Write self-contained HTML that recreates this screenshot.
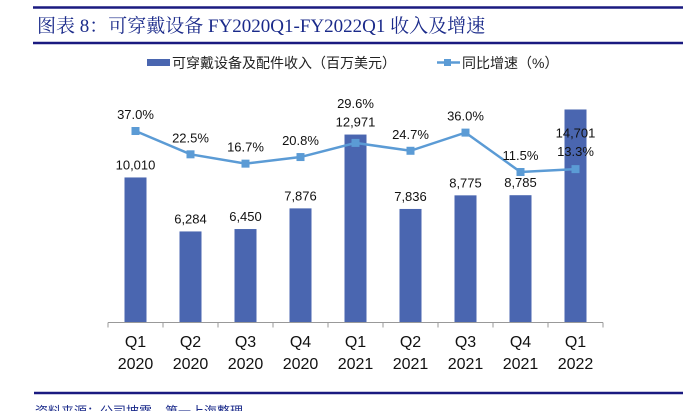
<!DOCTYPE html>
<html><head><meta charset="utf-8"><style>
body{margin:0;background:#fff;width:698px;height:411px;overflow:hidden;font-family:"Liberation Sans","Noto Sans CJK SC",sans-serif}
</style></head><body>
<svg width="698" height="411">
<line x1="33" y1="7.5" x2="683" y2="7.5" stroke="#1a1a80" stroke-width="2.5"/>
<text x="37" y="32" font-size="19" fill="#1a2a8a" font-family="'Liberation Serif','Noto Serif CJK SC',serif">图表 8：可穿戴设备 FY2020Q1-FY2022Q1 收入及增速</text>
<line x1="33" y1="43" x2="683" y2="43" stroke="#1a1a80" stroke-width="2.5"/>
<g>
<rect x="147" y="59" width="23" height="7" fill="#4a66b0"/>
<text x="172" y="68" font-size="14" fill="#222">可穿戴设备及配件收入（百万美元）</text>
<line x1="437" y1="62.5" x2="460" y2="62.5" stroke="#5b9bd5" stroke-width="2.5"/>
<rect x="444" y="59" width="7" height="7" fill="#5b9bd5"/>
<text x="462" y="68" font-size="14" fill="#222">同比增速（%）</text>
</g>
<g id="plot"></g>
<line x1="34" y1="393" x2="683" y2="393" stroke="#1a1a80" stroke-width="2.5"/>
<text x="35" y="416" font-size="13" fill="#1a2a8a">资料来源：公司披露，第一上海整理</text>
</svg>
<script>
const categories=["Q1|2020","Q2|2020","Q3|2020","Q4|2020","Q1|2021","Q2|2021","Q3|2021","Q4|2021","Q1|2022"];
const revenue=[10010,6284,6450,7876,12971,7836,8775,8785,14701];
const growth=[37.0,22.5,16.7,20.8,29.6,24.7,36.0,11.5,13.3];
const NS="http://www.w3.org/2000/svg";
const g=document.getElementById('plot');
const x0=108,step=55,base=322.5;
const xc=i=>x0+step*(i+0.5);
const yb=v=>base-v*0.01449;
const yl=v=>190.5-v*1.608;
// label placement offsets (styling, not data)
const barLabelDy=[-8,-8,-8,-8,-8,-8,-8,-8,28];
const lineLabelDy=[-12,-12,-12,-12,-35,-12,-12,-12,-13];
function mk(t,a,txt){const e=document.createElementNS(NS,t);for(const k in a)e.setAttribute(k,a[k]);if(txt!==undefined)e.textContent=txt;g.appendChild(e);return e;}
revenue.forEach((v,i)=>{
 const r=mk('rect',{x:xc(i)-11,y:yb(v),width:22,height:base-yb(v),fill:'#4a66b0'});
 
 
});
const ax=mk('line',{x1:x0,y1:base,x2:x0+step*categories.length,y2:base,stroke:'#999','stroke-width':1});


categories.forEach((c,i)=>{
 mk('line',{x1:x0+step*i,y1:base,x2:x0+step*i,y2:base+5,stroke:'#999'});
 const p=c.split('|');
 const t1=mk('text',{x:xc(i),y:347,'font-size':16,'text-anchor':'middle',fill:'#111'},p[0]);
 
 
 const t2=mk('text',{x:xc(i),y:369,'font-size':16,'text-anchor':'middle',fill:'#111'},p[1]);
 
 
});
mk('line',{x1:x0+step*9,y1:base,x2:x0+step*9,y2:base+5,stroke:'#999'});
const pl=mk('polyline',{points:growth.map((v,i)=>xc(i)+','+yl(v)).join(' '),fill:'none',stroke:'#5b9bd5','stroke-width':2.5});


growth.forEach((v,i)=>{
 const m=mk('rect',{x:xc(i)-4,y:yl(v)-4,width:8,height:8,fill:'#5b9bd5'});
 
 
});
revenue.forEach((v,i)=>{
 const t=mk('text',{x:xc(i),y:yb(v)+barLabelDy[i],'font-size':13,'text-anchor':'middle',fill:'#111'},v.toLocaleString('en-US'));
 
 
});
growth.forEach((v,i)=>{
 const t=mk('text',{x:xc(i),y:yl(v)+lineLabelDy[i],'font-size':13,'text-anchor':'middle',fill:'#111'},v.toFixed(1)+'%');
 
 
});
</script>
</body></html>
